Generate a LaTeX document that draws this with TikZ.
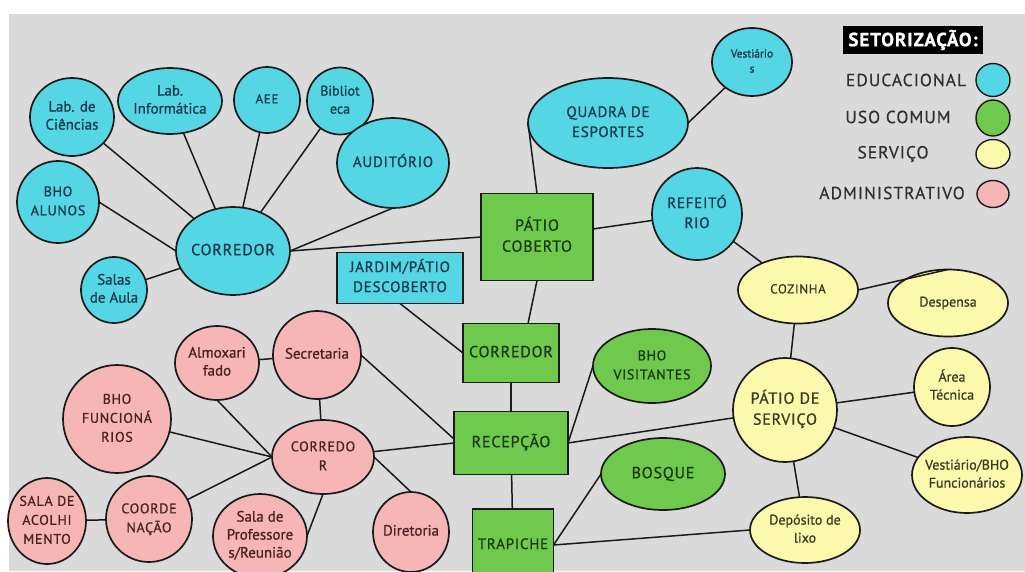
\documentclass[tikz,border=0pt]{standalone}
\usepackage{fontspec}
\setmainfont{PT Sans}
\newfontfamily\capsf[LetterSpace=5, FakeBold=0.8]{PT Sans}
\newfontfamily\lowf[FakeBold=0.8]{PT Sans}
\newfontfamily\legf[LetterSpace=6, FakeBold=0.5]{PT Sans}
\usetikzlibrary{shapes.geometric}
\definecolor{bgc}{RGB}{218,218,218}
\definecolor{cyanf}{RGB}{84,214,228}
\definecolor{greenf}{RGB}{110,201,76}
\definecolor{yellowf}{RGB}{253,249,172}
\definecolor{pinkf}{RGB}{246,182,182}
\definecolor{linec}{RGB}{26,26,26}
\definecolor{cyant}{RGB}{24,56,76}
\definecolor{greent}{RGB}{26,56,20}
\definecolor{pinkt}{RGB}{74,34,34}
\definecolor{yellowt}{RGB}{58,58,34}
\definecolor{legt}{RGB}{48,48,48}
\newcommand{\lbl}[1]{\makebox[0pt]{\begin{tabular}{@{}c@{}}#1\end{tabular}}}
\tikzset{
  base/.style={draw=linec, line width=1.7pt, inner sep=0pt, outer sep=0pt},
  ell/.style={base, ellipse},
  box/.style={base, rectangle},
  edu/.style={fill=cyanf, text=cyant},
  com/.style={fill=greenf, text=greent},
  ser/.style={fill=yellowf, text=yellowt},
  adm/.style={fill=pinkf, text=pinkt},
  wire/.style={draw=linec, line width=1.5pt},
  cA/.style={font=\capsf\fontsize{16}{21}\selectfont},
  cB/.style={font=\capsf\fontsize{15}{20}\selectfont},
  cC/.style={font=\capsf\fontsize{14}{19}\selectfont},
  cD/.style={font=\capsf\fontsize{13}{17}\selectfont},
  lA/.style={font=\lowf\fontsize{15}{18}\selectfont},
  lB/.style={font=\lowf\fontsize{14}{18}\selectfont},
  lC/.style={font=\lowf\fontsize{11.5}{15}\selectfont},
  legtxt/.style={font=\legf\fontsize{17.5}{20}\selectfont, text=legt, inner sep=0pt},
  legdot/.style={ell, line width=1.4pt},
}
\begin{document}
\begin{tikzpicture}[x=1pt, y=-1pt]
\useasboundingbox (0,0) rectangle (1025,571);
\clip (0,0) rectangle (1025,571);
\fill[white] (0,0) rectangle (1025,571);
\fill[bgc] (9,14) rectangle (1025,571);

% ---- Educacional
\node[ell, edu, lA, minimum width=84pt, minimum height=78pt] (labc) at (72,117) {\lbl{Lab. de\\Ciências}};
\node[ell, edu, lA, minimum width=104pt, minimum height=66pt] (labi) at (170,101) {\lbl{Lab.\\Informática}};
\node[ell, edu, cD, minimum width=66pt, minimum height=66pt] (aee) at (267,100) {\lbl{AEE}};
\node[ell, edu, lB, minimum width=66pt, minimum height=67pt] (bib) at (340,101) {\lbl{Bibliot\\eca}};
\node[ell, edu, cB, minimum width=112pt, minimum height=90pt] (aud) at (393,163) {\lbl{AUDITÓRIO}};
\node[ell, edu, cC, minimum width=82pt, minimum height=82pt] (bhoa) at (58,202) {\lbl{BHO\\ALUNOS}};
\node[ell, edu, cA, minimum width=114pt, minimum height=88pt] (corc) at (233,251) {\lbl{CORREDOR}};
\node[ell, edu, lA, minimum width=66pt, minimum height=66pt] (salas) at (114,290) {\lbl{Salas\\de Aula}};
\node[ell, edu, cB, minimum width=160pt, minimum height=90pt] (quadra) at (608,123) {\lbl{QUADRA DE\\ESPORTES}};
\node[ell, edu, lC, minimum width=80pt, minimum height=68pt] (vest) at (752,62) {\lbl{Vestiário\\s}};
\node[ell, edu, cB, minimum width=90pt, minimum height=92pt] (refe) at (697,214) {\lbl{REFEITÓ\\RIO}};
\node[box, edu, cB, minimum width=126pt, minimum height=51pt] (jardim) at (400,278) {\lbl{JARDIM/PÁTIO\\DESCOBERTO}};

% ---- Uso comum
\node[box, com, cA, minimum width=112pt, minimum height=87pt] (patio) at (537,237) {\lbl{PÁTIO\\COBERTO}};
\node[box, com, cA, minimum width=96pt, minimum height=59pt] (corg) at (511,353) {\lbl{CORREDOR}};
\node[box, com, cA, minimum width=114pt, minimum height=63pt] (recep) at (511,443) {\lbl{RECEPÇÃO}};
\node[box, com, cB, minimum width=81pt, minimum height=72pt] (trap) at (513,545) {\lbl{TRAPICHE}};
\node[ell, com, cC, minimum width=118pt, minimum height=74pt] (bhov) at (652,366) {\lbl{BHO\\VISITANTES}};
\node[ell, com, cA, minimum width=124pt, minimum height=72pt] (bosque) at (663,474) {\lbl{BOSQUE}};

% ---- Servico
\node[ell, ser, cD, minimum width=120pt, minimum height=67pt] (coz) at (798,290) {\lbl{COZINHA}};
\node[ell, ser, lB, minimum width=120pt, minimum height=67pt] (desp) at (948,303) {\lbl{Despensa}};
\node[ell, ser, cA, minimum width=104pt, minimum height=104pt] (pserv) at (785,410) {\lbl{PÁTIO DE\\SERVIÇO}};
\node[ell, ser, lB, minimum width=76pt, minimum height=78pt] (area) at (952,387) {\lbl{Área\\Técnica}};
\node[ell, ser, lB, minimum width=110pt, minimum height=76pt] (vbho) at (967,475) {\lbl{Vestiário/BHO\\Funcionários}};
\node[ell, ser, lB, minimum width=110pt, minimum height=66pt] (dep) at (805,530) {\lbl{Depósito de\\lixo}};

% ---- Administrativo
\node[ell, adm, lA, minimum width=84pt, minimum height=74pt] (almox) at (217,363) {\lbl{Almoxari\\fado}};
\node[ell, adm, lA, minimum width=88pt, minimum height=88pt] (secr) at (317,355) {\lbl{Secretaria}};
\node[ell, adm, cC, minimum width=108pt, minimum height=108pt] (bhof) at (117,419) {\lbl{BHO\\FUNCIONÁ\\RIOS}};
\node[ell, adm, cC, minimum width=102pt, minimum height=74pt] (corp) at (323,457) {\lbl{CORREDO\\R}};
\node[ell, adm, cC, minimum width=78pt, minimum height=86pt] (acol) at (47,521) {\lbl{SALA DE\\ACOLHI\\MENTO}};
\node[ell, adm, cC, minimum width=86pt, minimum height=86pt] (coord) at (149,519) {\lbl{COORDE\\NAÇÃO}};
\node[ell, adm, lA, minimum width=94pt, minimum height=84pt] (prof) at (260,536) {\lbl{Sala de\\Professore\\s/Reunião}};
\node[ell, adm, lA, minimum width=76pt, minimum height=80pt] (dir) at (411,532) {\lbl{Diretoria}};

% ---- Conectores
\draw[wire] (corc) -- (labc);
\draw[wire] (corc) -- (labi);
\draw[wire] (corc) -- (aee);
\draw[wire] (corc) -- (bib);
\draw[wire] (corc.east) -- (aud.south);
\draw[wire] (bhoa.east) -- (corc.west);
\draw[wire] (corc) -- (salas);
\draw[wire] (corc.east) -- (patio.west);
\draw[wire] (patio.north) -- (quadra.west);
\draw[wire] (quadra.east) -- (vest);
\draw[wire] (patio) -- (refe);
\draw[wire] (patio.south) -- ([xshift=17pt]corg.north);
\draw[wire] (jardim.south) -- (corg.west);
\draw[wire] (corg) -- (recep);
\draw[wire] (recep.east) -- (bhov.west);
\draw[wire] (recep.east) -- (pserv);
\draw[wire] (corp) -- (recep.west);
\draw[wire] (secr.east) -- ([yshift=4pt]recep.west);
\draw[wire] (recep) -- (trap);
\draw[wire] (trap.east) -- (bosque.west);
\draw[wire] (trap.east) -- (dep.west);
\draw[wire] (pserv) -- (coz);
\draw[wire] (pserv) -- (area);
\draw[wire] (pserv) -- (vbho);
\draw[wire] (pserv) -- (dep);
\draw[wire] (coz.east) -- (desp.north);
\draw[wire] (refe) -- (coz);
\draw[wire] (almox) -- (secr);
\draw[wire] (almox.south) -- (corp.west);
\draw[wire] (secr) -- (corp);
\draw[wire] (bhof) -- (corp.west);
\draw[wire] (coord) -- (corp.west);
\draw[wire] (acol) -- (coord);
\draw[wire] (prof.east) -- (corp.south);
\draw[wire] (corp.east) -- (dir.north);

% ---- Legenda
\node[fill=black, text=white, font=\capsf\bfseries\fontsize{19}{22}\selectfont, minimum width=140pt, minimum height=28pt, inner sep=0pt] (legt) at (913,40) {SETORIZAÇÃO:};
\node[legtxt] (le1) at (906,80) {EDUCACIONAL};
\node[legtxt] (le2) at (898,117) {USO COMUM};
\node[legtxt] (le3) at (893,154) {SERVIÇO};
\node[legtxt] (le4) at (892,193) {ADMINISTRATIVO};
\node[legdot, fill=cyanf, minimum width=34pt, minimum height=33pt] (ld1) at (993,80) {};
\node[legdot, fill=greenf, minimum width=34pt, minimum height=36pt] (ld2) at (993,118) {};
\node[legdot, fill=yellowf, minimum width=34pt, minimum height=29pt] (ld3) at (993,154) {};
\node[legdot, fill=pinkf, minimum width=32pt, minimum height=27pt] (ld4) at (993,194) {};
\end{tikzpicture}
\end{document}
